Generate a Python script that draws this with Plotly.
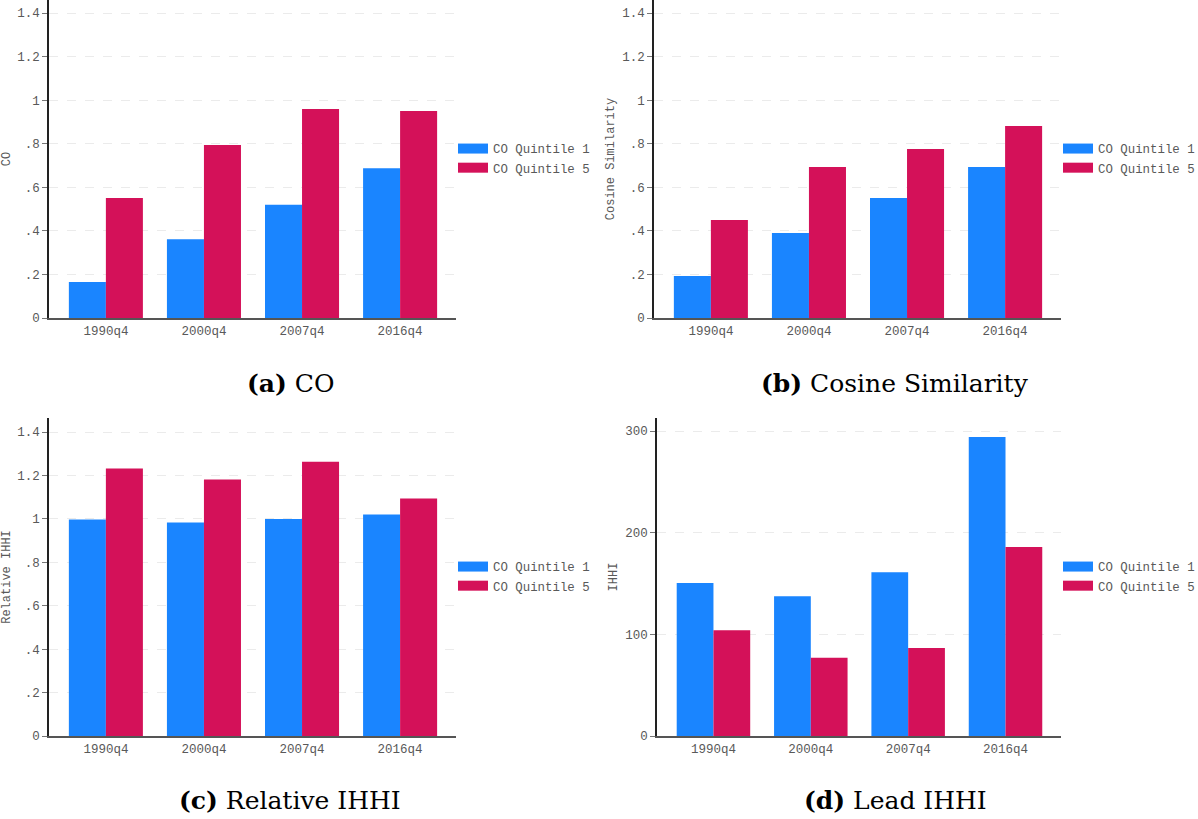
import plotly.graph_objects as go

# ---------------- data ----------------
periods = ["1990q4", "2000q4", "2007q4", "2016q4"]
series_names = ["CO Quintile 1", "CO Quintile 5"]

co_q1 = [0.165, 0.362, 0.520, 0.688]
co_q5 = [0.551, 0.794, 0.959, 0.950]

cos_q1 = [0.193, 0.390, 0.551, 0.693]
cos_q5 = [0.450, 0.693, 0.776, 0.881]

rel_q1 = [0.997, 0.984, 1.000, 1.020]
rel_q5 = [1.232, 1.182, 1.264, 1.094]

lead_q1 = [150.5, 137.5, 161.0, 294.0]
lead_q5 = [104.0, 77.0, 86.5, 186.0]

frac_tickvals = [0, 0.2, 0.4, 0.6, 0.8, 1.0, 1.2, 1.4]
frac_ticktext = ["0", ".2", ".4", ".6", ".8", "1", "1.2", "1.4"]
ihhi_tickvals = [0, 100, 200, 300]
ihhi_ticktext = ["0", "100", "200", "300"]

y_titles = ["CO", "Cosine Similarity", "Relative IHHI", "IHHI"]
captions = [("(a)", "CO"), ("(b)", "Cosine Similarity"),
            ("(c)", "Relative IHHI"), ("(d)", "Lead IHHI")]

# ---------------- style ----------------
W, H = 1198, 819
BLUE = "#1A85FF"
RED = "#D41159"
MONO = "Liberation Mono, Courier New, monospace"
SERIF = "DejaVu Serif, Liberation Serif, serif"
GRAY = "#595959"

# panel pixel boxes: (x0, x1, ytop, ybottom)
boxes = [(49, 456, 0, 318), (654, 1061, 0, 318),
         (49, 456, 418, 736), (657, 1061, 418, 736)]
caption_pos = [(290, 383), (895, 383), (290, 800), (895, 800)]

panels = [
    (co_q1, co_q5, frac_tickvals, frac_ticktext, [0, 1.46]),
    (cos_q1, cos_q5, frac_tickvals, frac_ticktext, [0, 1.46]),
    (rel_q1, rel_q5, frac_tickvals, frac_ticktext, [0, 1.465]),
    (lead_q1, lead_q5, ihhi_tickvals, ihhi_ticktext, [0, 312.8]),
]

fig = go.Figure()
layout = dict(
    width=W, height=H,
    margin=dict(l=0, r=0, t=0, b=0, autoexpand=False),
    paper_bgcolor="white", plot_bgcolor="white",
    barmode="group", bargap=0.245, bargroupgap=0,
    font=dict(family=MONO, size=12, color=GRAY),
    annotations=[],
)

for i, (q1, q5, tv, tt, yr) in enumerate(panels):
    n = i + 1
    xa = "x" if n == 1 else f"x{n}"
    ya = "y" if n == 1 else f"y{n}"
    lg = "legend" if n == 1 else f"legend{n}"
    for vals, name, col in ((q1, series_names[0], BLUE), (q5, series_names[1], RED)):
        fig.add_trace(go.Bar(x=periods, y=vals, name=name, marker_color=col,
                             marker_line_width=0, xaxis=xa, yaxis=ya,
                             showlegend=False, legendgroup=f"{lg}-{name}"))
        # legend key entry (wide rectangular key)
        fig.add_trace(go.Scatter(x=[None], y=[None], mode="lines", name=name,
                                 line=dict(color=col, width=13), xaxis=xa, yaxis=ya,
                                 legend=lg, legendgroup=f"{lg}-{name}",
                                 showlegend=True, hoverinfo="skip"))
    x0, x1, yt, yb = boxes[i]
    xkey = "xaxis" if n == 1 else f"xaxis{n}"
    ykey = "yaxis" if n == 1 else f"yaxis{n}"
    layout[xkey] = dict(
        domain=[x0 / W, x1 / W], anchor=ya, type="category",
        range=[-0.58, 3.57], showline=True, linecolor="#555555", linewidth=2,
        ticks="", showgrid=False, zeroline=False,
        tickfont=dict(family=MONO, size=12.5, color=GRAY), fixedrange=True,
    )
    layout[ykey] = dict(
        domain=[1 - yb / H, 1 - yt / H], anchor=xa, range=yr,
        tickvals=tv, ticktext=tt, showline=True, linecolor="#222222", linewidth=1.5,
        ticks="outside", ticklen=5, tickcolor="#777777",
        showgrid=True, gridcolor="#ebebeb", griddash="dash", gridwidth=1,
        zeroline=False, tickfont=dict(family=MONO, size=12.5, color=GRAY),
        title=dict(text=y_titles[i], font=dict(family=MONO, size=12, color=GRAY), standoff=5),
        fixedrange=True,
    )
    layout[lg] = dict(
        x=(x1 - 3) / W, y=1 - (yt + 134) / H, xanchor="left", yanchor="top",
        bgcolor="rgba(0,0,0,0)", borderwidth=0, tracegroupgap=0,
        font=dict(family=MONO, size=12.4, color=GRAY), itemwidth=30,
        itemclick=False, itemdoubleclick=False,
    )
    cx, cy = caption_pos[i]
    lab, txt = captions[i]
    layout["annotations"].append(dict(
        x=cx / W, y=1 - cy / H, xref="paper", yref="paper",
        text=f"<b>{lab}</b>&nbsp;{txt}", showarrow=False,
        font=dict(family=SERIF, size=25, color="black"),
        xanchor="center", yanchor="middle",
    ))

fig.update_layout(**layout)
page_fix = (
    "document.documentElement.style.margin='0';"
    "document.documentElement.style.padding='0';"
    "document.documentElement.style.overflow='hidden';"
    "document.body.style.margin='0';"
    "document.body.style.padding='0';"
    "document.body.style.overflow='hidden';"
)
fig.write_html("out.html", post_script=page_fix,
               config={"displayModeBar": False, "responsive": False})
